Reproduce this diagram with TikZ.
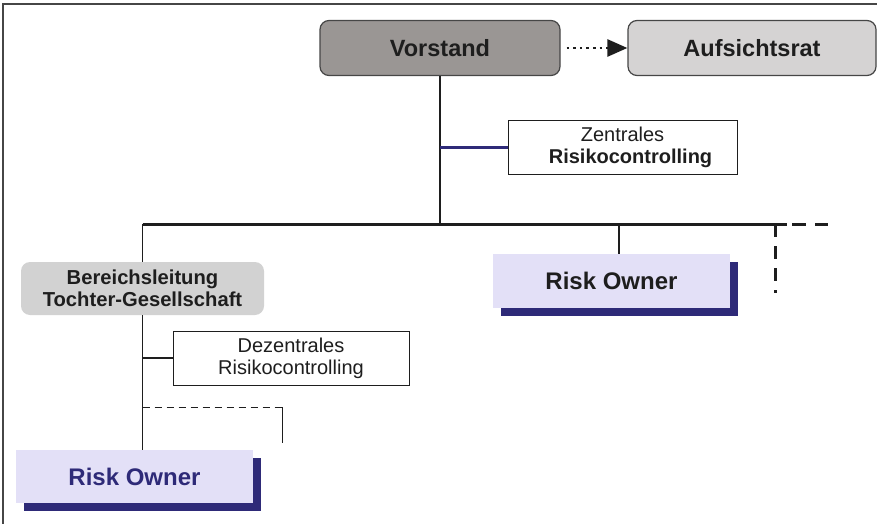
\documentclass[tikz,border=0pt]{standalone}
\usepackage{fontspec}
\setmainfont{Liberation Sans}
\usetikzlibrary{arrows.meta,shadows}
\definecolor{inkdark}{RGB}{30,30,30}
\definecolor{framegray}{RGB}{70,70,70}
\definecolor{headgray}{RGB}{154,150,148}
\definecolor{boardgray}{RGB}{213,211,211}
\definecolor{divgray}{RGB}{210,210,210}
\definecolor{ownerfill}{RGB}{227,224,247}
\definecolor{navy}{RGB}{46,42,120}
\tikzstyle{head} = [rectangle, rounded corners=9pt, minimum width=240pt, minimum height=55pt, text centered, draw=framegray, line width=1.2pt, fill=headgray, text=inkdark, font=\fontsize{23.5}{27}\selectfont\bfseries]
\tikzstyle{board} = [head, minimum width=248pt, fill=boardgray]
\tikzstyle{control} = [rectangle, minimum width=229pt, minimum height=54pt, align=center, draw=inkdark, line width=1pt, fill=white, text=inkdark, font=\fontsize{20}{22}\selectfont]
\tikzstyle{division} = [rectangle, rounded corners=9pt, minimum width=243pt, minimum height=53pt, align=center, fill=divgray, text=inkdark, font=\fontsize{20.2}{22}\selectfont\bfseries]
\tikzstyle{owner} = [rectangle, minimum width=237pt, minimum height=54pt, text centered, fill=ownerfill, text=inkdark, font=\fontsize{24}{28}\selectfont\bfseries, drop shadow={shadow xshift=8pt, shadow yshift=-8pt, fill=navy, opacity=1}]
\tikzstyle{link} = [line width=1.5pt, draw=inkdark]
\tikzstyle{trunk} = [line width=3pt, draw=inkdark]
\tikzstyle{arrow} = [line width=2.6pt, draw=inkdark, dash pattern=on 2.6pt off 4pt, -{Triangle[length=20pt,width=17pt]}]

\begin{document}
\begin{tikzpicture}[x=1pt, y=-1pt, node distance = 100pt]
\useasboundingbox (0,0) rectangle (877,524);
\draw[line width=1.5pt, framegray] (877,4) -- (3,4) -- (3,524);

\node(vorstand) [head] at (440,48) {Vorstand};
\node(aufsicht) [board, right of = vorstand, xshift=212pt] {Aufsichtsrat};
\node(zentral)  [control, below of = vorstand, xshift=182.5pt, yshift=1pt] {Zentrales\\ \hspace*{16pt}\textbf{Risikocontrolling}};
\node(ownerR)   [owner, below of = zentral, xshift=-11pt, yshift=-34pt] {Risk Owner};
\node(bereich)  [division, left of = ownerR, xshift=-369pt, yshift=-7.5pt] {Bereichsleitung\\Tochter-Gesellschaft};
\node(dezentral)[control, minimum width=236pt, below of = bereich, xshift=148.5pt, yshift=30.5pt] {Dezentrales\\Risikocontrolling};
\node(ownerL)   [owner, text=navy, minimum height=53pt, below of = dezentral, xshift=-156.5pt, yshift=-18.5pt] {Risk Owner};

\coordinate (bar) at (442,224);
\coordinate (barR) at (787,224);
\coordinate (barEnd) at (828,224);
\coordinate (stub) at (775,293);
\coordinate (hooktop) at (282,407);
\coordinate (hookend) at (282,443);

\draw [arrow] (vorstand.east) ++(6pt,0) -- (aufsicht.west);
\draw [link] (vorstand.south) -- (vorstand.south |- bar);
\draw [line width=3pt, navy] (zentral.west) -- (zentral.west -| vorstand.south);
\draw [trunk] (bereich.north |- bar) -- (barR);
\draw [trunk, dash pattern=on 14pt off 9pt] (barR) ++(5pt,0) -- (barEnd);
\draw [trunk, dash pattern=on 13pt off 9pt] (stub |- bar) -- (stub);
\draw [link] ([xshift=7.5pt]ownerR.north |- bar) -- ([xshift=7.5pt]ownerR.north);
\draw [link] (bereich.north |- bar) -- (bereich.north);
\draw [link] (bereich.south) -- (bereich.south |- ownerL.north);
\draw [link] (dezentral.west) -- (dezentral.west -| bereich.south);
\draw [line width=1pt, inkdark, dash pattern=on 7pt off 5pt] (bereich.south |- hooktop) -- (hooktop);
\draw [line width=1pt, inkdark] (hooktop) -- (hookend);

\end{tikzpicture}
\end{document}
